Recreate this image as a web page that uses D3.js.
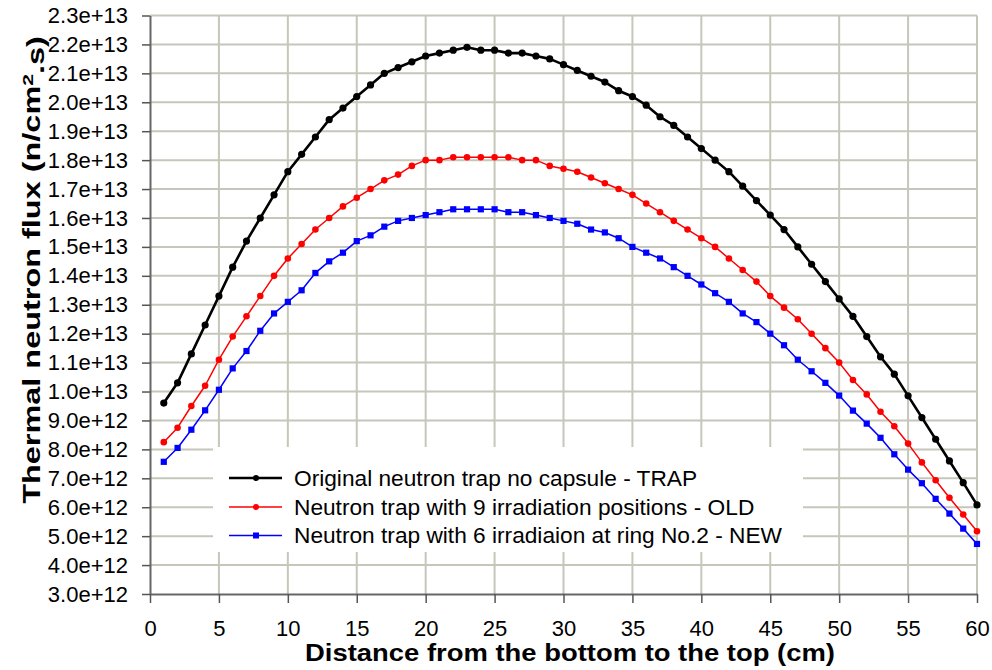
<!DOCTYPE html>
<html>
<head>
<meta charset="utf-8">
<script src="https://cdn.jsdelivr.net/npm/d3@7"></script>
<style>
  html, body { margin: 0; padding: 0; background: #fff; }
  text { font-family: "Liberation Sans", Arial, sans-serif; fill: #000; }
</style>
</head>
<body>
<div id="svg-holder"></div>
<script>
// values, flux in units of 1e12 n/cm2.s
const positions = d3.range(1, 61);

const trap = [9.6, 10.3, 11.3, 12.3, 13.3, 14.3, 15.2, 16.0, 16.8, 17.6,
  18.2, 18.8, 19.4, 19.8, 20.2, 20.6, 21.0, 21.2, 21.4, 21.6,
  21.7, 21.8, 21.9, 21.8, 21.8, 21.7, 21.7, 21.6, 21.5, 21.3,
  21.1, 20.9, 20.7, 20.4, 20.2, 19.9, 19.5, 19.2, 18.8, 18.4,
  18.0, 17.6, 17.1, 16.6, 16.1, 15.6, 15.0, 14.4, 13.8, 13.2,
  12.6, 11.9, 11.2, 10.6, 9.85, 9.1, 8.35, 7.6, 6.85, 6.08];

const oldPos = [8.25, 8.75, 9.5, 10.2, 11.1, 11.9, 12.6, 13.3, 14.0, 14.6,
  15.1, 15.6, 16.0, 16.4, 16.7, 17.0, 17.3, 17.5, 17.8, 18.0,
  18.0, 18.1, 18.1, 18.1, 18.1, 18.1, 18.0, 18.0, 17.8, 17.7,
  17.6, 17.4, 17.2, 17.0, 16.8, 16.5, 16.2, 15.9, 15.6, 15.3,
  15.0, 14.6, 14.2, 13.8, 13.3, 12.9, 12.5, 12.0, 11.5, 11.0,
  10.4, 9.9, 9.3, 8.8, 8.2, 7.55, 6.93, 6.33, 5.75, 5.17];

const newPos = [7.57, 8.05, 8.68, 9.35, 10.06, 10.8, 11.4, 12.1, 12.7, 13.1,
  13.5, 14.1, 14.5, 14.8, 15.2, 15.4, 15.7, 15.9, 16.0, 16.1,
  16.2, 16.3, 16.3, 16.3, 16.3, 16.2, 16.2, 16.1, 16.0, 15.9,
  15.8, 15.6, 15.5, 15.3, 15.0, 14.8, 14.6, 14.3, 14.0, 13.7,
  13.4, 13.1, 12.7, 12.4, 12.0, 11.6, 11.1, 10.7, 10.3, 9.86,
  9.34, 8.89, 8.4, 7.83, 7.3, 6.83, 6.29, 5.78, 5.26, 4.73];

const seriesNames = [
  "Original neutron trap no capsule - TRAP",
  "Neutron trap with 9 irradiation positions - OLD",
  "Neutron trap with 6 irradiaion at ring No.2 - NEW"
];

const xTicks = [0, 5, 10, 15, 20, 25, 30, 35, 40, 45, 50, 55, 60];
const yTicks = [3, 4, 5, 6, 7, 8, 9, 10, 11, 12, 13, 14, 15, 16, 17, 18, 19, 20, 21, 22, 23];

const W = 992, H = 670;

let svg = d3.select("#svg-holder")
  .append("svg")
  .attr("width", W)
  .attr("height", H);

svg.append("rect").attr("width", W).attr("height", H).attr("fill", "#fff");

let x = d3.scaleLinear().domain([0, 60]).range([150, 977]);
let y = d3.scaleLinear().domain([3, 23]).range([594, 15.5]);

// grid
let grid = svg.append("g").attr("stroke", "#c6c6ba").attr("stroke-width", 2);
grid.selectAll("line.h")
  .data(yTicks.slice(1))
  .join("line")
    .attr("x1", x(0)).attr("x2", x(60))
    .attr("y1", d => y(d)).attr("y2", d => y(d));
grid.selectAll("line.v")
  .data(xTicks.slice(1))
  .join("line")
    .attr("x1", d => x(d)).attr("x2", d => x(d))
    .attr("y1", y(3)).attr("y2", y(23));

// axes
let fmt = d => (d * 1e12).toExponential(1);

let yAxis = svg.append("g")
  .attr("transform", "translate(" + x(0) + ",0)")
  .call(d3.axisLeft(y).tickValues(yTicks).tickFormat(fmt).tickSize(8).tickSizeOuter(0).tickPadding(14));

let xAxis = svg.append("g")
  .attr("transform", "translate(0," + y(3) + ")")
  .call(d3.axisBottom(x).tickValues(xTicks).tickSize(9).tickSizeOuter(0).tickPadding(17));

[xAxis, yAxis].forEach(a => {
  a.select(".domain").attr("stroke", "#666").attr("stroke-width", 2);
  a.selectAll(".tick line").attr("stroke", "#555").attr("stroke-width", 1.5);
  a.selectAll(".tick text")
    .style("font-family", "'Liberation Sans', Arial, sans-serif")
    .style("font-size", "22px")
    .attr("fill", "#000");
});

// series
let series = [
  { name: seriesNames[0], values: trap, color: "#000000", width: 2.6, shape: "circle", r: 3.6 },
  { name: seriesNames[1], values: oldPos, color: "#ff0000", width: 1.5, shape: "circle", r: 3.3 },
  { name: seriesNames[2], values: newPos, color: "#0000ff", width: 1.5, shape: "square", r: 3.1 }
];

let line = d3.line()
  .x((d, i) => x(positions[i]))
  .y(d => y(d));

series.forEach(s => {
  let g = svg.append("g");
  g.append("path")
    .datum(s.values)
    .attr("fill", "none")
    .attr("stroke", s.color)
    .attr("stroke-width", s.width)
    .attr("stroke-linejoin", "round")
    .attr("d", line);
  if (s.shape === "circle") {
    g.selectAll("circle")
      .data(s.values)
      .join("circle")
        .attr("cx", (d, i) => x(positions[i]))
        .attr("cy", d => y(d))
        .attr("r", s.r)
        .attr("fill", s.color);
  } else {
    g.selectAll("rect")
      .data(s.values)
      .join("rect")
        .attr("x", (d, i) => x(positions[i]) - s.r)
        .attr("y", d => y(d) - s.r)
        .attr("width", s.r * 2)
        .attr("height", s.r * 2)
        .attr("fill", s.color);
  }
});

// legend
let legend = svg.append("g");
legend.append("rect")
  .attr("x", 213).attr("y", 447)
  .attr("width", 590).attr("height", 105)
  .attr("fill", "#fff");

let rowY = [478, 507, 535.5];
series.forEach((s, i) => {
  let row = legend.append("g").attr("transform", "translate(0," + rowY[i] + ")");
  row.append("line")
    .attr("x1", 229).attr("x2", 282)
    .attr("stroke", s.color)
    .attr("stroke-width", s.width);
  if (s.shape === "circle") {
    row.append("circle").attr("cx", 256).attr("r", 3).attr("fill", s.color);
  } else {
    row.append("rect").attr("x", 253).attr("y", -3).attr("width", 6).attr("height", 6).attr("fill", s.color);
  }
  row.append("text")
    .attr("x", 294)
    .attr("dy", "0.35em")
    .style("font-size", "22.7px")
    .text(s.name);
});

// axis titles, stretched to the widths seen in the reference
function fitText(sel, target) {
  let len = sel.node().getComputedTextLength();
  return target / len;
}

let xt = svg.append("text")
  .attr("text-anchor", "middle")
  .style("font-size", "23px")
  .style("font-weight", "bold")
  .text("Distance from the bottom to the top (cm)");
let sx = fitText(xt, 530);
xt.attr("transform", "translate(570,661) scale(" + sx + ",1)");

let yt = svg.append("text")
  .attr("text-anchor", "middle")
  .style("font-size", "23px")
  .style("font-weight", "bold");
yt.append("tspan").text("Thermal neutron flux (n/cm");
yt.append("tspan").attr("dy", "-0.45em").style("font-size", "15px").text("2");
yt.append("tspan").attr("dy", "0.45em").text(".s)");
let sy = fitText(yt, 468);
yt.attr("transform", "translate(40,270) rotate(-90) scale(" + sy + ",1)");
</script>
</body>
</html>
